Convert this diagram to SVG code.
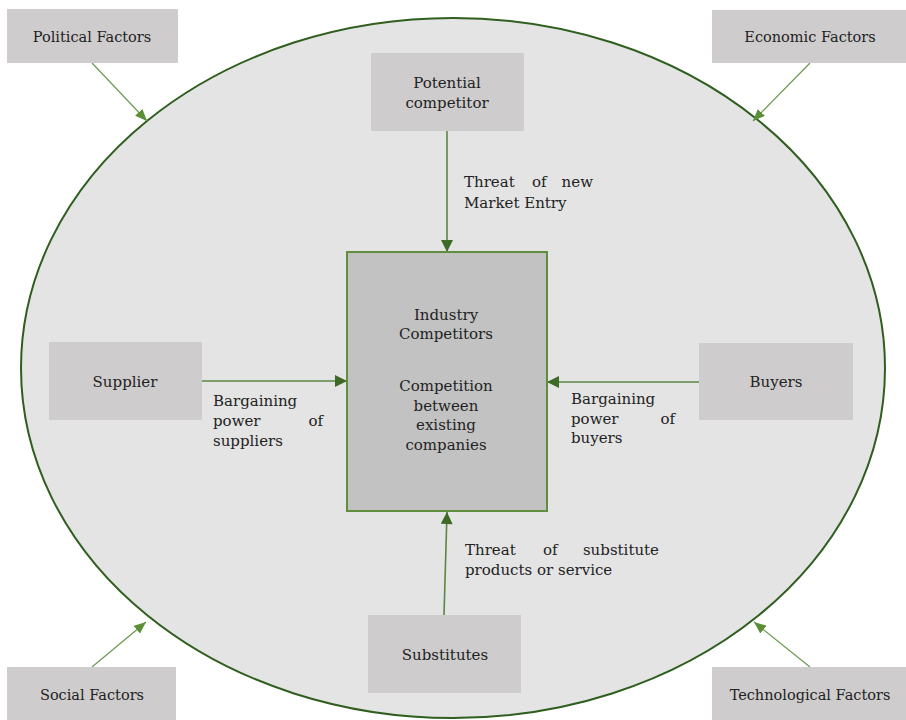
<svg xmlns="http://www.w3.org/2000/svg" width="906" height="720" viewBox="0 0 906 720">
<style>
text{font-family:"DejaVu Serif","Liberation Serif",serif;fill:#222;font-size:15px}
.f{font-size:14.5px}
.c{text-anchor:middle}
.e{text-anchor:end}
.box{fill:#cecccd}
.fl{stroke:#6b9a52;stroke-width:1.2;fill:none}
.cl{stroke:#5b8645;stroke-width:1.6;fill:none}
</style>
<defs>
<marker id="af" viewBox="0 0 12 10" refX="12" refY="5" markerWidth="12" markerHeight="10" markerUnits="userSpaceOnUse" orient="auto">
<path d="M0,0 L12,5 L0,10 z" fill="#5a8f35"/>
</marker>
<marker id="ac" viewBox="0 0 12 12" refX="12" refY="6" markerWidth="13" markerHeight="12" markerUnits="userSpaceOnUse" orient="auto">
<path d="M0,0 L12,6 L0,12 z" fill="#3d6b27"/>
</marker>
</defs>
<rect width="906" height="720" fill="#ffffff"/>
<ellipse id="environment" cx="453" cy="368" rx="432" ry="350" fill="#e4e4e4" stroke="#2f5e1e" stroke-width="2"/>

<g id="connectors">
<line class="fl" x1="92" y1="63" x2="147" y2="121" marker-end="url(#af)"/>
<line class="fl" x1="810" y1="63" x2="753" y2="121" marker-end="url(#af)"/>
<line class="fl" x1="92" y1="667" x2="146" y2="622" marker-end="url(#af)"/>
<line class="fl" x1="810" y1="667" x2="754" y2="622" marker-end="url(#af)"/>
<line class="cl" x1="447" y1="131" x2="447" y2="252" marker-end="url(#ac)"/>
<line class="cl" x1="444" y1="615" x2="447" y2="512" marker-end="url(#ac)"/>
<line class="cl" x1="202" y1="381" x2="347" y2="381" marker-end="url(#ac)"/>
<line class="cl" x1="699" y1="382" x2="547" y2="382" marker-end="url(#ac)"/>
</g>

<g id="political">
<rect class="box" x="7" y="9" width="171" height="54"/>
<text class="f c" x="92" y="42">Political Factors</text>
</g>
<g id="economic">
<rect class="box" x="712" y="10" width="194" height="53"/>
<text class="f c" x="810" y="42">Economic Factors</text>
</g>
<g id="social">
<rect class="box" x="7" y="667" width="169" height="53"/>
<text class="f c" x="92" y="700">Social Factors</text>
</g>
<g id="technological">
<rect class="box" x="712" y="667" width="194" height="53"/>
<text class="f c" x="810" y="700">Technological Factors</text>
</g>

<g id="potential">
<rect class="box" x="371" y="53" width="153" height="78"/>
<text class="c" x="447" y="88">Potential</text>
<text class="c" x="447" y="108">competitor</text>
</g>
<g id="supplier">
<rect class="box" x="49" y="342" width="153" height="78"/>
<text class="c" x="125" y="387">Supplier</text>
</g>
<g id="buyers">
<rect class="box" x="699" y="343" width="154" height="77"/>
<text class="c" x="776" y="387">Buyers</text>
</g>
<g id="substitutes">
<rect class="box" x="368" y="615" width="153" height="78"/>
<text class="c" x="445" y="660">Substitutes</text>
</g>

<g id="industry">
<rect x="347" y="252" width="200" height="259" fill="#c2c2c2" stroke="#5e8e3e" stroke-width="2"/>
<text class="c" x="446" y="320">Industry</text>
<text class="c" x="446" y="339">Competitors</text>
<text class="c" x="446" y="391">Competition</text>
<text class="c" x="446" y="411">between</text>
<text class="c" x="446" y="430">existing</text>
<text class="c" x="446" y="450">companies</text>
</g>

<g id="labels">
<text x="464" y="187">Threat</text>
<text x="532" y="187">of</text>
<text class="e" x="593" y="187">new</text>
<text x="464" y="208">Market Entry</text>

<text x="213" y="406">Bargaining</text>
<text x="213" y="426">power</text>
<text class="e" x="323" y="426">of</text>
<text x="213" y="446">suppliers</text>

<text x="571" y="404">Bargaining</text>
<text x="571" y="424">power</text>
<text class="e" x="675" y="424">of</text>
<text x="571" y="443">buyers</text>

<text x="465" y="555">Threat</text>
<text x="543" y="555">of</text>
<text class="e" x="659" y="555">substitute</text>
<text x="465" y="575">products or service</text>
</g>
</svg>
